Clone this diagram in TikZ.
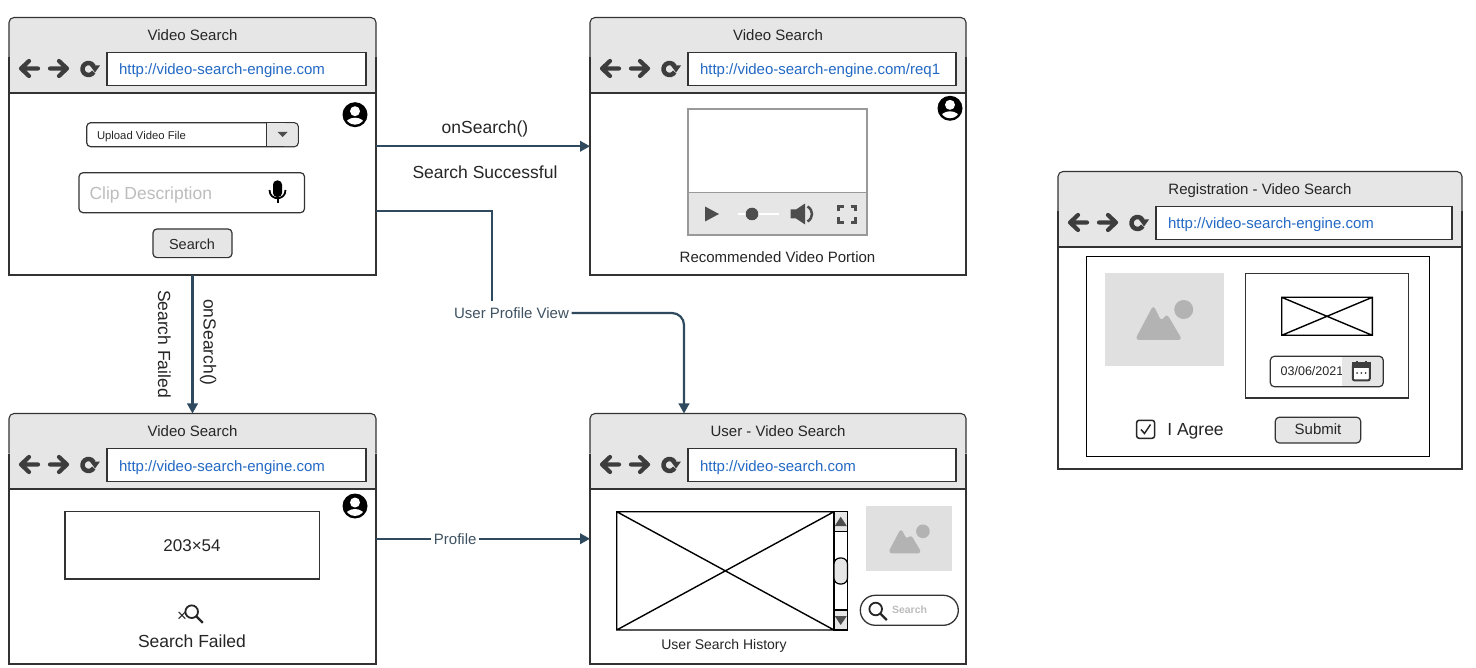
\documentclass[tikz,border=0pt]{standalone}
\usepackage{fontspec}
\setmainfont{Liberation Sans}
\usetikzlibrary{arrows.meta}
\usetikzlibrary{calc}

\definecolor{barfill}{HTML}{E6E6E6}
\definecolor{winline}{HTML}{333333}
\definecolor{urlblue}{HTML}{2369C4}
\definecolor{flowline}{HTML}{2F4A5E}
\definecolor{flowtext}{HTML}{3F5262}
\definecolor{icongrey}{HTML}{3D3D3D}
\definecolor{ctlgrey}{HTML}{4D4D4D}
\definecolor{hintgrey}{HTML}{BDBDBD}
\definecolor{photobg}{HTML}{E0E0E0}
\definecolor{photofg}{HTML}{B3B3B3}

\tikzset{
  txt/.style={inner sep=0pt, outer sep=0pt, text=black!85, font=\fontsize{#1}{#1}\selectfont},
  frame/.style={inner sep=0pt, outer sep=0pt},
  winedge/.style={draw=winline, line width=1.1pt},
  flow/.style={draw=flowline, line width=2.2pt, -{Triangle[length=10pt,width=10.5pt]}},
  flowplain/.style={draw=flowline, line width=2.2pt},
  flowlabel/.style={inner xsep=2.5pt, inner ysep=0pt, fill=white, text=flowtext, font=\fontsize{15}{15}\selectfont},
  ctl/.style={draw=winline, line width=1.2pt, rounded corners=4pt},
  cross/.style={draw=black, line width=1.4pt},
  navback/.pic={
    \draw[icongrey, line width=4.2pt, line cap=round, line join=round]
      (9,0) -- (-8,0) (0,-7.5) -- (-8,0) -- (0,7.5);
  },
  navfwd/.pic={
    \draw[icongrey, line width=4.2pt, line cap=round, line join=round]
      (-9,0) -- (8,0) (0,-7.5) -- (8,0) -- (0,7.5);
  },
  navreload/.pic={
    \draw[icongrey, line width=4.5pt] (30:6) arc[start angle=30, end angle=335, radius=6];
    \fill[icongrey] (1.5,-3.5) -- (11.5,-3.5) -- (6.5,3.5) -- cycle;
  },
  avatar/.pic={
    \fill[black] (0,0) circle (12.5);
    \begin{scope}
      \clip (0,0) circle (10);
      \fill[white] (0,10.5) ellipse (10 and 7.5);
    \end{scope}
    \fill[white] (0,-3.5) circle (5);
  },
  photo/.pic={
    \fill[photofg, rounded corners=4pt] (-29.5,20.5) -- (-11,-14.5) -- (-3,2) -- (2.3,-6) -- (18,20.5) -- cycle;
    \fill[photofg] (19.3,-10) circle (9.5);
  },
  lens/.pic={
    \draw[black!85, line width=1.8pt] (0,0) circle (#1);
    \draw[black!85, line width=2.4pt] (45:#1) -- (45:{#1*2.5});
  },
}

\newcommand{\browserwin}[7]{
  \node[frame, minimum width=#4pt, minimum height=#5pt] (#1) at ({#2+#4/2},{#3+#5/2}) {};
  \fill[barfill, rounded corners=5pt] (#1.north west) rectangle ({#2+#4},{#3+20});
  \fill[barfill] ({#2},{#3+10}) rectangle ({#2+#4},{#3+75.5});
  \draw[winedge, rounded corners=5pt] ({#2},{#3+40}) -- (#1.north west) -- (#1.north east) -- ({#2+#4},{#3+40});
  \draw[winedge] ({#2},{#3+40}) -- (#1.south west) -- (#1.south east) -- ({#2+#4},{#3+40});
  \draw[winedge] ({#2},{#3+75.5}) -- ({#2+#4},{#3+75.5});
  \node[txt=15, anchor=base] (#1title) at ({#2+#4/2},{#3+23.2}) {#6};
  \node[frame, draw=winline, line width=1.1pt, fill=white, anchor=north west, minimum width={#4-108}, minimum height=32.5pt] (#1url) at ({#2+98},{#3+35.2}) {};
  \node[txt=15, text=urlblue, anchor=base west] (#1urltext) at ({#2+110},{#3+57.5}) {#7};
  \pic at ({#2+20},{#3+51}) {navback};
  \pic at ({#2+50},{#3+51}) {navfwd};
  \pic at ({#2+79.5},{#3+51.5}) {navreload};
}
\newcommand{\crossrect}[4]{
  \draw[cross] (#1,#2) rectangle (#3,#4) (#1,#2) -- (#3,#4) (#1,#4) -- (#3,#2);
}

\begin{document}
\begin{tikzpicture}[x=1pt,y=-1pt]
  \path[use as bounding box, fill=white] (0,0) rectangle (1476,668);

  \browserwin{search}{9}{17.5}{367}{257.5}{Video Search}{http://video-search-engine.com}
  \browserwin{result}{590}{17.5}{376}{257.5}{Video Search}{http://video-search-engine.com/req1}
  \browserwin{failed}{9}{413.5}{367}{250.5}{Video Search}{http://video-search-engine.com}
  \browserwin{user}{590}{413.5}{376}{250.5}{User - Video Search}{http://video-search.com}
  \browserwin{reg}{1058}{171.5}{404}{297.5}{Registration - Video Search}{http://video-search-engine.com}

  \pic at (355,114.7) {avatar};
  \pic at (950,108.3) {avatar};
  \pic at (355,506) {avatar};

  \draw[ctl] (86.7,122.7) rectangle (298.3,146.7);
  \fill[barfill, rounded corners=4pt] (280,123.3) -- (297.7,123.3) -- (297.7,146.1) -- (280,146.1) -- cycle;
  \fill[barfill] (267,123.3) rectangle (285,146.1);
  \draw[winline, line width=1.2pt] (266.7,122.7) -- (266.7,146.7);
  \fill[ctlgrey] (277.5,132) -- (287.5,132) -- (282.5,137) -- cycle;
  \node[txt=11.3, anchor=base west] (uploadtext) at (97,139.7) {Upload Video File};

  \draw[ctl] (79,172.7) rectangle (304.5,212.7);
  \node[txt=17.5, text=hintgrey, anchor=base west] (cliptext) at (89.5,199.7) {Clip Description};
  \fill[black, rounded corners=4pt] (273,180.5) rectangle (282,197);
  \draw[black, line width=1.8pt] (269.5,190) .. controls (269.5,201) and (285.5,201) .. (285.5,190);
  \draw[black, line width=2pt] (277.5,197) -- (277.5,203.5);

  \node[frame, ctl, fill=barfill, minimum width=79pt, minimum height=28.7pt] (searchbtn) at (192.5,243.3) {};
  \node[txt=14.5, anchor=base] (searchbtntext) at (192,249.7) {Search};

  \draw[draw=black!40, line width=1.6pt, fill=white] (687.7,109) rectangle (867,235);
  \draw[draw=black!40, line width=1.6pt, fill=barfill] (687.7,192.7) rectangle (867,235);
  \fill[ctlgrey] (705,206.5) -- (719,214) -- (705,221.5) -- cycle;
  \draw[white, line width=2.5pt] (738,214) -- (779,214);
  \fill[ctlgrey] (752,214) circle (6.3);
  \fill[ctlgrey] (790.5,209.5) -- (796,209.5) -- (805,203.5) -- (805,224.5) -- (796,218.5) -- (790.5,218.5) -- cycle;
  \draw[ctlgrey, line width=2.5pt] (807.5,206.5) .. controls (813.5,210) and (813.5,218) .. (807.5,221.5);
  \draw[ctlgrey, line width=2.5pt]
    (838.5,211.5) -- (838.5,206.5) -- (843.5,206.5) (850.5,206.5) -- (855.5,206.5) -- (855.5,211.5)
    (855.5,217.5) -- (855.5,222.5) -- (850.5,222.5) (843.5,222.5) -- (838.5,222.5) -- (838.5,217.5);
  \node[txt=15, anchor=base] (videotext) at (777.5,262.7) {Recommended Video Portion};

  \node[frame, draw=winline, line width=1.1pt, minimum width=254.5pt, minimum height=67.3pt] (adbox) at (192.2,545.3) {};
  \node[txt=17, anchor=base] (adtext) at (192,551.8) {203×54};
  \pic at (191.7,611.7) {lens=6.3};
  \node[txt=17, anchor=center] (nofind) at (182,617) {×};
  \node[txt=17.5, anchor=base] (failtext) at (192,647.7) {Search Failed};

  \crossrect{616.7}{511.7}{834}{630}
  \draw[cross, fill=white] (834,511.7) rectangle (847.5,630);
  \fill[barfill] (834.7,512.4) rectangle (846.8,531);
  \fill[barfill] (834.7,610.7) rectangle (846.8,629.3);
  \fill[ctlgrey] (840.7,516.7) -- (846.8,526) -- (834.7,526) -- cycle;
  \fill[ctlgrey] (840.7,625) -- (846.8,616) -- (834.7,616) -- cycle;
  \draw[black, line width=1.2pt] (834,531.7) -- (847.5,531.7) (834,610) -- (847.5,610);
  \draw[black, line width=1.2pt, fill=barfill, rounded corners=6pt] (834,558) rectangle (847.5,584);
  \node[txt=14, anchor=base] (historytext) at (724,649) {User Search History};
  \fill[photobg] (866,506) rectangle (952,571);
  \pic[scale=0.72] at (909,538.5) {photo};
  \draw[winline, line width=1.3pt, rounded corners=15pt] (860.3,595.3) rectangle (958.3,625.3);
  \pic at (875.7,609) {lens=6.3};
  \node[txt=10.5, text=hintgrey, anchor=base west] (usersearch) at (892,613) {\bfseries Search};

  \draw[draw=black, line width=1.5pt] (1086.3,256.7) rectangle (1429.3,456.7);
  \fill[photobg] (1105,273.3) rectangle (1223.7,365.7);
  \pic at (1164.4,319.5) {photo};
  \draw[winline, line width=1.5pt] (1245.3,273.7) rectangle (1408.3,398);
  \crossrect{1281.7}{297.3}{1372.3}{335.3}
  \node[txt=12.5, anchor=base west] (datetext) at (1280.7,376) {03/06/2021};
  \fill[barfill, rounded corners=4pt] (1360,356.3) -- (1383.3,356.3) -- (1383.3,386.7) -- (1360,386.7) -- cycle;
  \fill[barfill] (1341.7,356.3) rectangle (1370,386.7);
  \draw[ctl] (1270.3,356.3) rectangle (1383.3,386.7);
  \draw[icongrey, line width=2pt, fill=white, rounded corners=2pt] (1352.8,363.5) rectangle (1369.8,380.5);
  \fill[icongrey] (1352,362.5) rectangle (1370.5,368);
  \draw[icongrey, line width=2pt] (1356.5,361) -- (1356.5,364) (1366,361) -- (1366,364);
  \fill[icongrey] (1357,373) circle (1) (1361.3,373) circle (1) (1365.6,373) circle (1);
  \draw[ctl, draw=black!85, line width=1.5pt, rounded corners=2.5pt] (1136.6,420.3) rectangle (1154.6,438.3);
  \draw[black!85, line width=1.5pt] (1141,429.5) -- (1144.5,433.5) -- (1150.5,424.5);
  \node[txt=17.5, anchor=base west] (agreetext) at (1167.3,435.7) {I Agree};
  \node[frame, ctl, fill=barfill, minimum width=85.4pt, minimum height=25.7pt] (submitbtn) at (1318,430.1) {};
  \node[txt=15, anchor=base] (submittext) at (1318,434) {Submit};

  \coordinate (bendA) at (492,211);
  \coordinate (bendB) at (684,313);
  \node[flowlabel, anchor=base, text height=10pt, text depth=3pt, inner ysep=7pt] (viewlabel) at (511.5,318.7) {User Profile View};
  \draw[flow] (search.east) to (result.west);
  \node[txt=17.5, anchor=base] (searchcall) at (485,133.2) {onSearch()};
  \node[txt=17.5, anchor=base] (searchok) at (485,178.2) {Search Successful};
  \draw[flow] (search.south) to (failed.north);
  \node[txt=17.5, anchor=base, rotate=-90] (searchno) at (158,344) {Search Failed};
  \node[txt=17.5, anchor=base, rotate=-90] (failcall) at (203.5,342.5) {onSearch()};
  \draw[flowplain] (search.east |- bendA) -- (bendA) -- (bendA |- viewlabel.north);
  \draw[flow, rounded corners=12pt] (viewlabel.east |- bendB) -- (bendB) -- (bendB |- user.north);
  \draw[flow] (failed.east) to node[flowlabel, pos=0.37] (profilelabel) {Profile} (user.west);
\end{tikzpicture}
\end{document}
